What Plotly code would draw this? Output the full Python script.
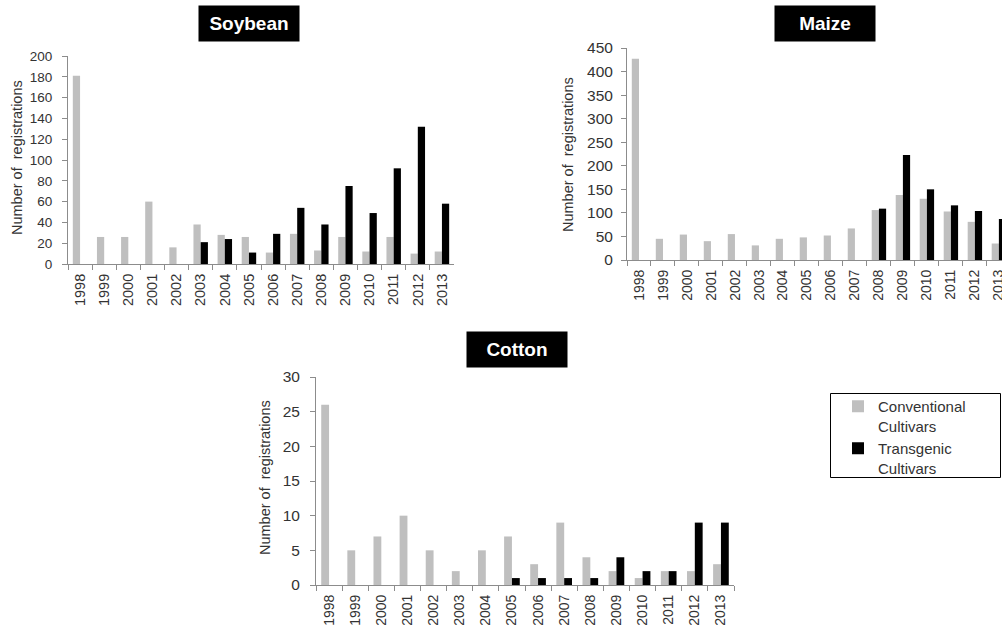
import plotly.graph_objects as go

years = [str(y) for y in range(1998, 2014)]

soy_conv = [181, 26, 26, 60, 16, 38, 28, 26, 11, 29, 13, 26, 12, 26, 10, 12]
soy_trans = [0, 0, 0, 0, 0, 21, 24, 11, 29, 54, 38, 75, 49, 92, 132, 58]

maize_conv = [427, 45, 54, 40, 55, 31, 45, 48, 52, 67, 106, 138, 130, 103, 81, 35]
maize_trans = [0, 0, 0, 0, 0, 0, 0, 0, 0, 0, 109, 223, 150, 116, 104, 87]

cotton_conv = [26, 5, 7, 10, 5, 2, 5, 7, 3, 9, 4, 2, 1, 2, 2, 3]
cotton_trans = [0, 0, 0, 0, 0, 0, 0, 1, 1, 1, 1, 4, 2, 2, 9, 9]

W, H = 1002, 628
GRAY = "#bfbfbf"
BLACK = "#000000"
FONT = "Arial, Liberation Sans, sans-serif"
AXC = "#8c8c8c"
TXT = "#333333"


def px(x):
    return x / W


def py(y):
    return 1 - y / H


fig = go.Figure()

panels = [
    ("x", "y", soy_conv, soy_trans),
    ("x2", "y2", maize_conv, maize_trans),
    ("x3", "y3", cotton_conv, cotton_trans),
]
for i, (xa, ya, conv, trans) in enumerate(panels):
    show = i == 2
    fig.add_trace(go.Bar(x=years, y=conv, name="Conventional<br>Cultivars",
                         marker=dict(color=GRAY, line=dict(width=0)),
                         xaxis=xa, yaxis=ya, showlegend=show, legendgroup="g"))
    fig.add_trace(go.Bar(x=years, y=trans, name="Transgenic<br>Cultivars",
                         marker=dict(color=BLACK, line=dict(width=0)),
                         xaxis=xa, yaxis=ya, showlegend=show, legendgroup="g"))


def xaxis(domain, anchor, rng, fs):
    return dict(domain=domain, anchor=anchor, type="category", range=rng,
                showline=True, linecolor=AXC, linewidth=1, ticks="outside",
                tickson="boundaries", ticklen=5, tickcolor=AXC, tickangle=-90,
                tickfont=dict(family=FONT, size=fs, color=TXT), showgrid=False,
                zeroline=False, fixedrange=True, automargin=False,
                ticklabelstandoff=3)


def yaxis(domain, anchor, rng, dtick, fs, standoff):
    return dict(domain=domain, anchor=anchor, range=rng, dtick=dtick,
                showline=True, linecolor=AXC, linewidth=1, ticks="outside",
                ticklen=5, tickcolor=AXC, showgrid=False, zeroline=False,
                tickfont=dict(family=FONT, size=fs, color=TXT),
                ticklabelstandoff=standoff, fixedrange=True, automargin=False)


layout = dict(
    width=W, height=H,
    margin=dict(l=0, r=0, t=0, b=0, autoexpand=False),
    paper_bgcolor="white", plot_bgcolor="white",
    barmode="group", bargap=0.4, bargroupgap=0,
    xaxis=xaxis([px(68), px(454)], "y", [-0.5, 15.5], 14.5),
    yaxis=yaxis([py(264), py(56)], "x", [0, 200], 20, 13.5, 7),
    xaxis2=xaxis([px(627), 1.0], "y2", [-0.5, 15.13], 14),
    yaxis2=yaxis([py(260), py(48)], "x2", [0, 450], 50, 15.5, 5),
    xaxis3=xaxis([px(316), px(734)], "y3", [-0.5, 15.5], 14),
    yaxis3=yaxis([py(585), py(377)], "x3", [0, 30], 5, 15.5, 7),
    legend=dict(x=px(838), y=py(390), xanchor="left", yanchor="top",
                borderwidth=0, bgcolor="rgba(0,0,0,0)", valign="top",
                font=dict(family=FONT, size=15, color=TXT),
                tracegroupgap=0, itemwidth=30),
    shapes=[dict(type="rect", xref="paper", yref="paper",
                 x0=px(830.5), x1=px(1000.5), y0=py(477.5), y1=py(393.5),
                 line=dict(color="#000000", width=1), fillcolor="rgba(0,0,0,0)",
                 layer="below")],
)
fig.update_layout(**layout)

annotations = []
# Panel titles in black boxes
for text, cx, cy in [("Soybean", 249, 23.5), ("Maize", 825, 23.5), ("Cotton", 517, 349.5)]:
    annotations.append(dict(
        text="<b>%s</b>" % text, x=px(cx), y=py(cy), xref="paper", yref="paper",
        xanchor="center", yanchor="middle", showarrow=False,
        width=100, height=35, bgcolor="#000000", borderpad=0,
        font=dict(family=FONT, size=19, color="white")))

# Y axis titles
for cx, cy in [(17, 158), (568, 155), (265, 478)]:
    annotations.append(dict(
        text="Number of  registrations", x=px(cx), y=py(cy), xref="paper",
        yref="paper", xanchor="center", yanchor="middle", showarrow=False,
        textangle=-90, font=dict(family=FONT, size=14.5, color=TXT)))

fig.update_layout(annotations=annotations)

fig.write_html("out.html", config={"displayModeBar": False},
               post_script="document.body.style.margin='0';document.body.style.overflow='hidden';")
